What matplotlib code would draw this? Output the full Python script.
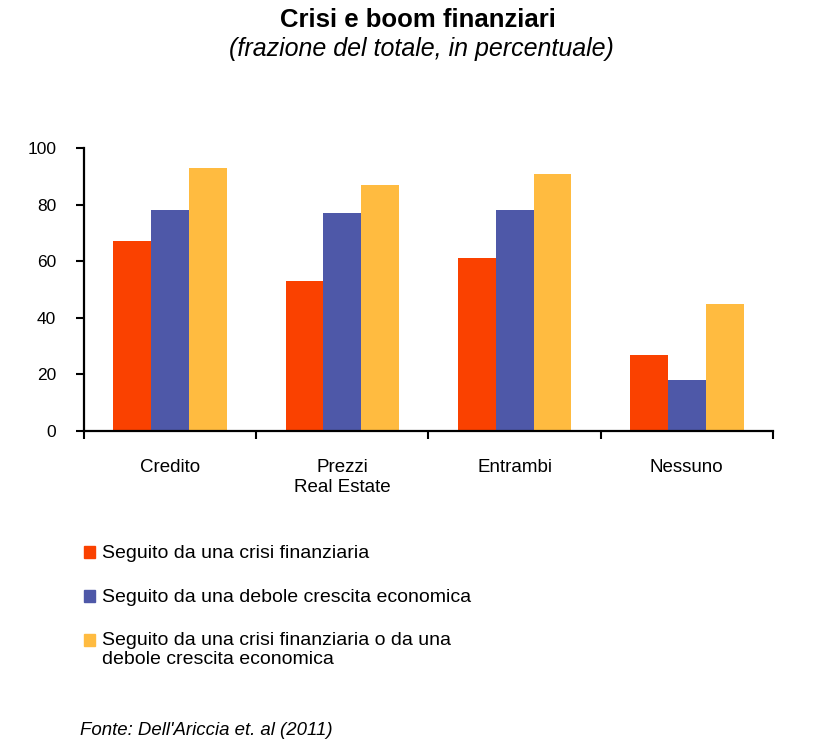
import matplotlib.pyplot as plt
from matplotlib.patches import Rectangle
import numpy as np

plt.rcParams['font.family'] = ['Liberation Sans', 'DejaVu Sans']

categorie = ['Credito', 'Prezzi\nReal Estate', 'Entrambi', 'Nessuno']
crisi = [67, 53, 61, 27]
debole = [78, 77, 78, 18]
crisi_o_debole = [93, 87, 91, 45]
serie = ['Seguito da una crisi finanziaria',
         'Seguito da una debole crescita economica',
         'Seguito da una crisi finanziaria o da una\ndebole crescita economica']
colori = ['#FA4100', '#4E58A8', '#FFBB40']

fig = plt.figure(figsize=(8.24, 7.42), dpi=100)
ax = fig.add_axes([0.102, 0.419, 0.836, 0.3815])

x = np.arange(len(categorie))
w = 0.22
for i, vals in enumerate([crisi, debole, crisi_o_debole]):
    ax.bar(x + (i - 1) * w, vals, w, color=colori[i], linewidth=0)

ax.set_xlim(-0.5, len(categorie) - 0.5)
ax.set_ylim(0, 100)
ax.set_yticks(range(0, 101, 20))
ax.set_xticks(np.arange(len(categorie) + 1) - 0.5)
ax.set_xticklabels([])
for xi, lab in zip(x, categorie):
    ax.text(xi, -10, lab, ha='center', va='top', fontsize=13.5, linespacing=1.2)

for s in ['top', 'right']:
    ax.spines[s].set_visible(False)
for s in ['left', 'bottom']:
    ax.spines[s].set_linewidth(1.6)
ax.tick_params(axis='both', direction='out', width=1.5, length=6, labelsize=12.5)
ax.tick_params(axis='y', pad=14)

fig.text(0.507, 0.973, 'Crisi e boom finanziari', ha='center', va='center',
         fontsize=18.5, fontweight='bold')
fig.text(0.512, 0.934, '(frazione del totale, in percentuale)', ha='center', va='center',
         fontsize=18, style='italic')

# legenda
ys = [0.256, 0.197, 0.138]
for c, lab, y in zip(colori, serie, ys):
    fig.patches.append(Rectangle((0.102, y - 0.008), 0.0135, 0.0155, color=c,
                                 transform=fig.transFigure, figure=fig))
    fig.text(0.124, y + 0.0098, lab, ha='left', va='top', fontsize=14, linespacing=1.15)

fig.text(0.097, 0.016, "Fonte: Dell'Ariccia et. al (2011)", ha='left', va='center',
         fontsize=13.4, style='italic')

fig.savefig('out.png', dpi=100)
